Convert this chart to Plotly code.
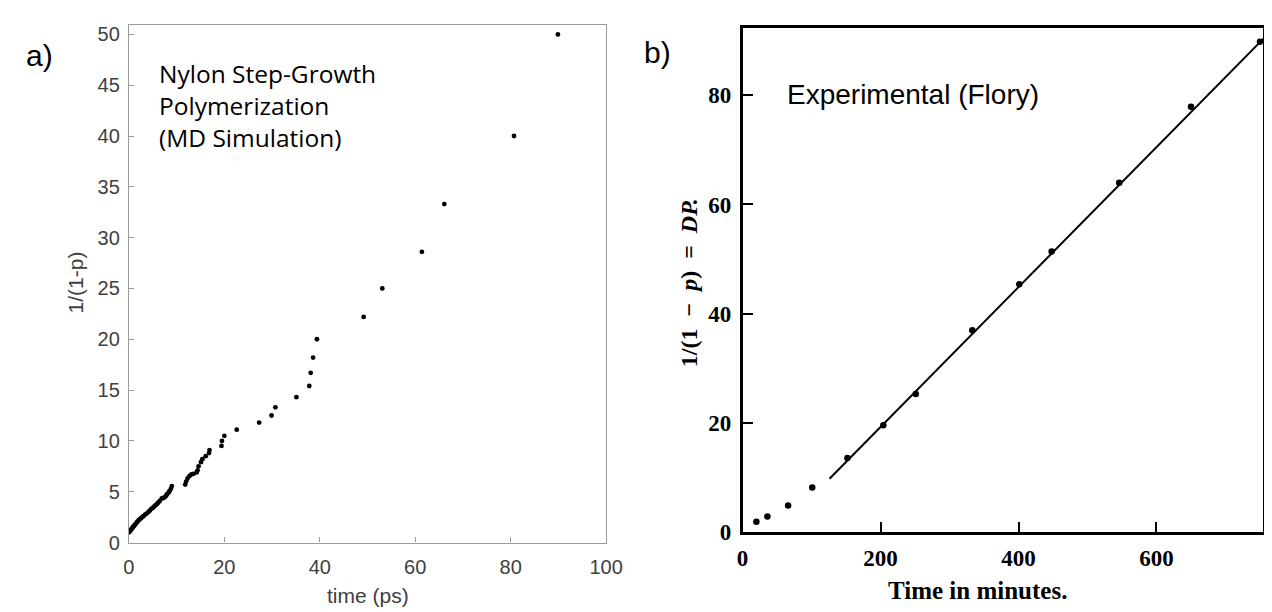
import plotly.graph_objects as go

# ---------------- data: panel a (MD simulation) ----------------
md_time_ps = [0.0, 0.1, 0.2, 0.3, 0.45, 0.6, 0.7, 0.85, 1.0, 1.2, 1.4, 1.6, 1.8, 2.05,
              2.3, 2.6, 2.9, 3.1, 3.4, 3.7, 4.1, 4.4, 4.7, 5.1, 5.4, 5.7, 6.0, 6.2,
              6.5, 6.9, 7.2, 7.5, 7.8, 8.0, 8.3, 8.5, 8.8, 9.0,
              11.8, 12.0, 12.3, 12.7, 13.1, 13.5, 14.2, 14.4, 14.6, 15.1, 15.4,
              16.1, 16.8, 16.9,
              19.4, 19.5, 20.0, 22.6, 27.3, 29.9, 30.7, 35.1, 37.8, 38.1, 38.6,
              39.4, 49.2, 53.1, 61.4, 66.1, 80.7, 89.9]
md_inv_1mp = [1.0, 1.05, 1.1, 1.18, 1.25, 1.35, 1.42, 1.5, 1.6, 1.7, 1.83, 1.95, 2.05, 2.2,
              2.3, 2.42, 2.55, 2.6, 2.75, 2.85, 3.0, 3.15, 3.3, 3.45, 3.6, 3.7, 3.85, 3.95,
              4.1, 4.35, 4.38, 4.45, 4.6, 4.75, 4.9, 5.05, 5.3, 5.55,
              5.7, 6.0, 6.3, 6.55, 6.7, 6.75, 6.9, 7.1, 7.5, 7.9, 8.2,
              8.5, 8.8, 9.1,
              9.5, 10.0, 10.5, 11.1, 11.8, 12.5, 13.3, 14.3, 15.4, 16.7, 18.2,
              20.0, 22.2, 25.0, 28.6, 33.3, 40.0, 50.0]

# ---------------- data: panel b (Flory experiment) ----------------
flory_time_min = [20, 36, 66, 101, 152, 204, 251, 333, 401, 448, 546, 650, 750]
flory_dp = [1.9, 2.9, 4.9, 8.2, 13.6, 19.6, 25.3, 37.0, 45.4, 51.4, 64.0, 77.9, 89.8]
fit_time_min = [126, 757]
fit_dp = [9.8, 90.6]

a_xticks = [0, 20, 40, 60, 80, 100]
a_yticks = [0, 5, 10, 15, 20, 25, 30, 35, 40, 45, 50]
b_xticks = [0, 200, 400, 600]
b_yticks = [0, 20, 40, 60, 80]

W, H = 1272, 612
def px(x):
    return x / W
def py(y):
    return 1 - y / H

fig = go.Figure()
fig.add_trace(go.Scatter(x=md_time_ps, y=md_inv_1mp, mode="markers",
                         marker=dict(color="black", size=4.8), xaxis="x", yaxis="y",
                         showlegend=False))
fig.add_trace(go.Scatter(x=fit_time_min, y=fit_dp, mode="lines",
                         line=dict(color="black", width=2), xaxis="x2", yaxis="y2",
                         showlegend=False))
fig.add_trace(go.Scatter(x=flory_time_min, y=flory_dp, mode="markers",
                         marker=dict(color="black", size=6.5), xaxis="x2", yaxis="y2",
                         showlegend=False))

grey = "#9a9a9a"
sans = "Liberation Sans"
serif = "Liberation Serif"

fig.update_layout(
    width=W, height=H, margin=dict(l=0, r=0, t=0, b=0),
    paper_bgcolor="white", plot_bgcolor="white",
    xaxis=dict(domain=[px(117), px(603)], range=[0, 100], tickvals=a_xticks,
               ticks="inside", ticklen=5, tickcolor=grey, tickwidth=1,
               showline=True, linecolor=grey, linewidth=1.2, mirror=True,
               showgrid=False, zeroline=False, ticklabelstandoff=6,
               tickfont=dict(family=sans, size=20, color="#404040"), anchor="y"),
    yaxis=dict(domain=[py(546), py(16)], range=[0, 50.96], tickvals=a_yticks,
               ticks="inside", ticklen=5, tickcolor=grey, tickwidth=1,
               showline=True, linecolor=grey, linewidth=1.2, mirror=True,
               showgrid=False, zeroline=False, ticklabelstandoff=4,
               tickfont=dict(family=sans, size=20, color="#404040"), anchor="x"),
    xaxis2=dict(domain=[px(742), 1.0], range=[0, 754.4], tickvals=b_xticks,
                ticks="inside", ticklen=11, tickcolor="black", tickwidth=1.6,
                showline=True, linecolor="black", linewidth=2.5, mirror=True,
                showgrid=False, zeroline=False, ticklabelstandoff=3,
                tickfont=dict(family=serif, size=23, color="black", weight="bold"),
                anchor="y2"),
    yaxis2=dict(domain=[py(535.5), py(19.5)], range=[0, 92.3], tickvals=b_yticks,
                ticks="inside", ticklen=11, tickcolor="black", tickwidth=1.6,
                showline=True, linecolor="black", linewidth=2.5, mirror=True,
                showgrid=False, zeroline=False, ticklabelstandoff=4,
                tickfont=dict(family=serif, size=23, color="black", weight="bold"),
                anchor="x2"),
)

ann = []
def add(text, x, y, size, family, color="black", xanchor="center", angle=0,
        weight="normal", align="center", yanchor="middle"):
    ann.append(dict(text=text, x=px(x), y=py(y), xref="paper", yref="paper",
                    xanchor=xanchor, yanchor=yanchor, showarrow=False, textangle=angle,
                    align=align, borderpad=0,
                    font=dict(family=family, size=size, color=color, weight=weight)))

add("a)", 26, 48, 30, sans)
add("b)", 655, 45, 30, sans)
add("Nylon Step-Growth<br>Polymerization<br>(MD Simulation)", 147, 99, 24.5,
    "Open Sans", xanchor="left", align="left")
add("time (ps)", 361, 600, 21, sans, color="#404040")
add("1/(1-p)", 63, 280, 21, sans, color="#404040", angle=-90)
add("Experimental (Flory)", 786, 88, 28, sans, xanchor="left")
add("Time in minutes.", 981, 595, 25, serif, weight="bold")
add("1/(1\u2002\u2212\u2002<i>p</i>)\u2002=\u2002<i>DP.</i>", 687, 280, 24, serif,
    angle=-90, weight="bold")
fig.update_layout(annotations=ann)

fig.write_html("out.html")
